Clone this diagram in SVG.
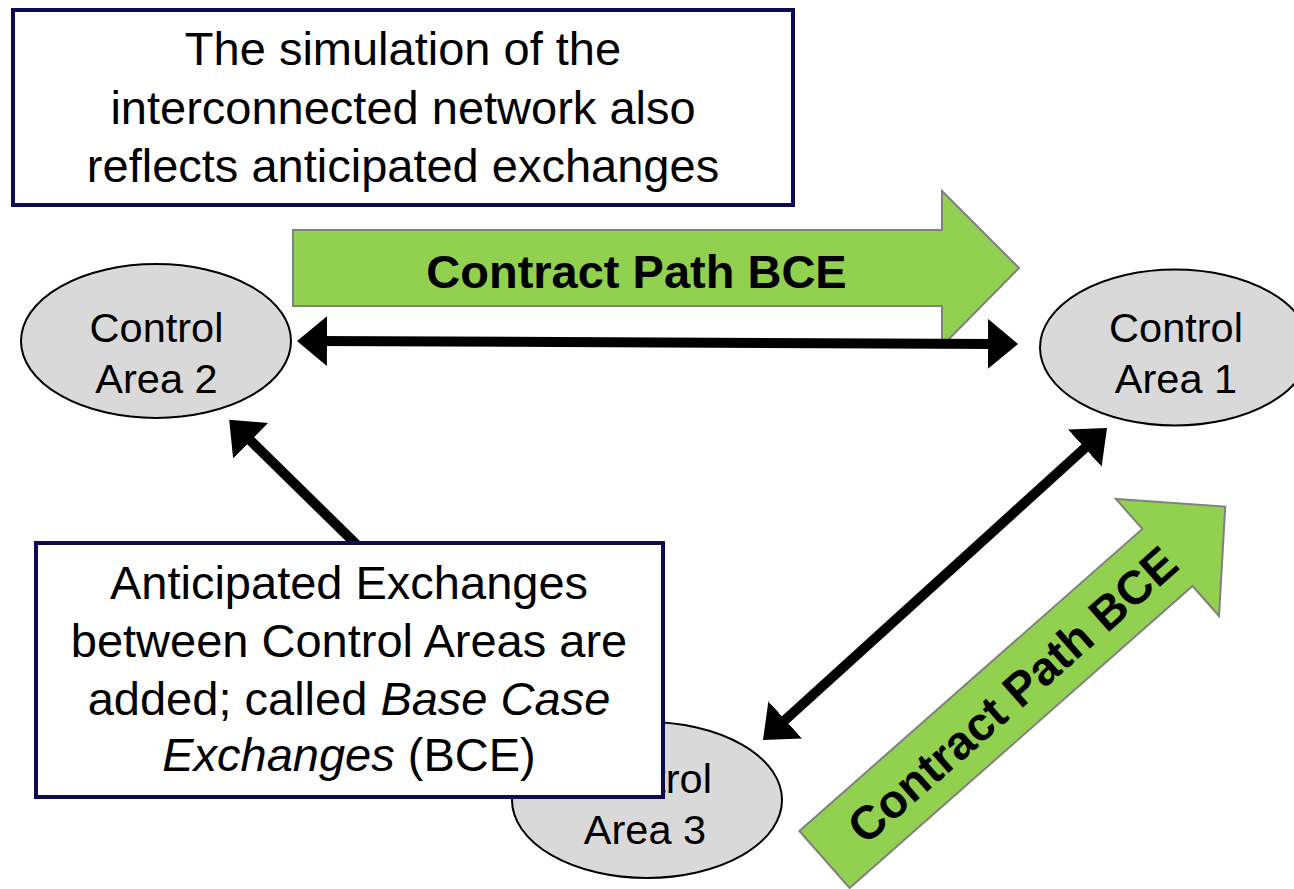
<svg xmlns="http://www.w3.org/2000/svg" width="1294" height="889" viewBox="0 0 1294 889">
<defs>
<style>
.box{fill:#ffffff;stroke:#0c0c4e;stroke-width:4}
.area{fill:#d9d9d9;stroke:#000000;stroke-width:2}
.green{fill:#92d050;stroke:#808080;stroke-width:2;stroke-linejoin:miter}
.t{font-family:"Liberation Sans",Arial,sans-serif;font-size:47px;fill:#000000;text-anchor:middle}
.ta{font-family:"Liberation Sans",Arial,sans-serif;font-size:41.5px;fill:#000000;text-anchor:middle}
.tb{font-family:"Liberation Sans",Arial,sans-serif;font-size:47px;font-weight:bold;fill:#000000;text-anchor:middle}
.conn{stroke:#000000;stroke-width:10;fill:none}
</style>
<marker id="head" markerUnits="userSpaceOnUse" viewBox="0 0 30 50" markerWidth="30" markerHeight="50" refX="10" refY="25" orient="auto-start-reverse">
<path d="M0,0 L30,25 L0,50 Z" fill="#000000"/>
</marker>
</defs>
<rect width="1294" height="889" fill="#ffffff"/>

<g id="contract-path-top">
<polygon class="green" points="293,230 942,230 942,191 1019,268 942,346 942,306 293,306"/>
<text class="tb" x="636.5" y="288">Contract Path BCE</text>
</g>

<g id="contract-path-diag" transform="translate(824.5,859.5) rotate(-41.37)">
<polygon class="green" points="0,-38 457,-38 457,-78 534,0 457,78 457,38 0,38"/>
<text class="tb" x="250" y="17">Contract Path BCE</text>
</g>

<g id="control-area-2">
<ellipse class="area" cx="156" cy="341" rx="135" ry="77"/>
<text class="ta" x="156.5" y="342">Control</text>
<text class="ta" x="156.5" y="393">Area 2</text>
</g>

<g id="control-area-1">
<ellipse class="area" cx="1175" cy="347.5" rx="135" ry="78"/>
<text class="ta" x="1176" y="342">Control</text>
<text class="ta" x="1176" y="393">Area 1</text>
</g>

<g id="control-area-3">
<ellipse class="area" cx="647" cy="800" rx="135" ry="78"/>
<text class="ta" x="645" y="793">Control</text>
<text class="ta" x="645" y="844">Area 3</text>
</g>

<g id="connectors">
<line class="conn" x1="317" y1="341" x2="998" y2="344" marker-start="url(#head)" marker-end="url(#head)"/>
<line class="conn" x1="777.8" y1="726.6" x2="1092.2" y2="441.4" marker-start="url(#head)" marker-end="url(#head)"/>
<line class="conn" x1="357" y1="545" x2="243.5" y2="433.8" marker-end="url(#head)"/>
</g>

<g id="note-simulation">
<rect class="box" x="13" y="10" width="780" height="195"/>
<text class="t" x="403" y="65">The simulation of the</text>
<text class="t" x="403" y="124">interconnected network also</text>
<text class="t" x="403" y="182">reflects anticipated exchanges</text>
</g>

<g id="note-bce">
<rect class="box" x="36" y="543" width="627" height="254"/>
<text class="t" x="349" y="599">Anticipated Exchanges</text>
<text class="t" x="349" y="657">between Control Areas are</text>
<text class="t" x="349" y="715">added; called <tspan font-style="italic">Base Case</tspan></text>
<text class="t" x="349" y="771"><tspan font-style="italic">Exchanges</tspan> (BCE)</text>
</g>
</svg>
